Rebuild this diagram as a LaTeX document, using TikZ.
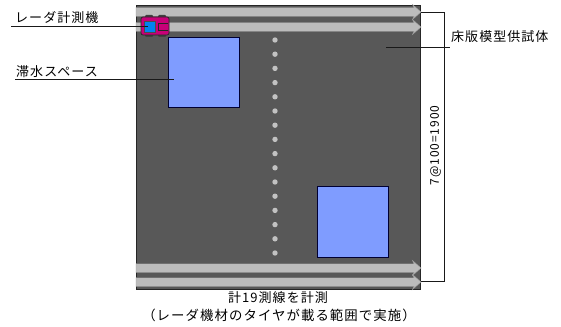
\documentclass[tikz,border=0pt]{standalone}
\usepackage{fontspec}
\setmainfont{Noto Sans CJK JP}[LetterSpace=8]
\definecolor{slab}{RGB}{88,88,88}
\definecolor{poolc}{RGB}{127,156,255}
\definecolor{bandc}{RGB}{188,188,188}
\definecolor{carbody}{RGB}{200,0,120}
\definecolor{carcab}{RGB}{0,130,240}
\tikzset{
 x=1pt,y=-1pt,
 lab/.style={inner sep=0pt,font=\fontsize{13}{14}\selectfont,text=black},
 leader/.style={draw=black!90,line width=0.9pt},
 pool/.style={draw=black!80!blue,fill=poolc,line width=0.9pt,inner sep=0pt,anchor=north west},
}
\newcommand{\bandarrow}[1]{%
 \draw[black!85,line width=0.7pt] (136,#1-5) -- (414,#1-5);
 \fill[bandc,draw=black!40,line width=0.4pt] (136,#1-4.3) -- (414,#1-4.3) -- (412.5,#1-7.5) -- (421,#1) -- (412.5,#1+7.5) -- (414,#1+4.3) -- (136,#1+4.3) -- cycle;}
\begin{document}
\begin{tikzpicture}
\useasboundingbox (0,0) rectangle (561,326);
\fill[white] (0,0) rectangle (561,326);
\node[draw=black!85,fill=slab,line width=0.9pt,minimum width=284pt,minimum height=284pt,inner sep=0pt,anchor=north west] (slabbox) at (136,5) {};
\bandarrow{12}
\bandarrow{27}
\bandarrow{268}
\bandarrow{282}
\node[pool,minimum width=71pt,minimum height=70pt] (poolA) at (168,37) {};
\node[pool,minimum width=71pt,minimum height=71pt] (poolB) at (317,185.5) {};
\foreach \i in {0,...,15}
  \fill[black!24] (275,40+14.2*\i) circle (2.7pt);
% vehicle
\foreach \p in {145,158}{
  \fill[black!75,rounded corners=1pt] (\p,15) rectangle (\p+8,37);}
\filldraw[fill=carbody,draw=black!85,line width=0.7pt,rounded corners=2pt] (141,17) rectangle (169,35);
\fill[carcab,draw=black!70,line width=0.5pt] (144,21.5) rectangle (155,32);
\draw[black!85,line width=0.8pt] (168,23) -- (158,23) -- (158,30) -- (168,30);
% labels and leaders
\node[lab,anchor=west] (radar) at (15,18) {レーダ計測機};
\coordinate (radarS) at (11,26);
\coordinate (radarE) at (148,26);
\draw[leader] (radarS) -- (radarE);
\node[lab,anchor=west] (water) at (16,72) {滞水スペース};
\coordinate (waterS) at (15,79);
\coordinate (waterE) at (174,79);
\draw[leader] (waterS) -- (waterE);
\node[lab,anchor=west] (slabl) at (451,37) {床版模型供試体};
\coordinate (slabS) at (386,47);
\coordinate (slabE) at (450,47);
\draw[leader] (slabS) -- (slabE);
% dimension
\coordinate (dimT) at (444,12);
\coordinate (dimB) at (444,281);
\draw[leader] (421,12) -- (dimT) -- (dimB) -- (421,281);
\node[lab,rotate=90,font=\fontsize{12}{14}\selectfont] (dimtxt) at (435.5,145.5) {7@100=1900};
\node[lab] (note1) at (278,298) {計19測線を計測};
\node[lab,font=\fontsize{13.4}{14}\selectfont] (note2) at (279,315) {（レーダ機材のタイヤが載る範囲で実施）};
\end{tikzpicture}
\end{document}
